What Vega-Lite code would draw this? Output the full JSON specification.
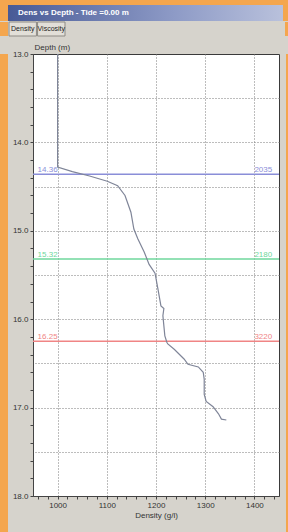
{
  "$schema": "https://vega.github.io/schema/vega-lite/v6.json",
  "background": "#D6D3CC",
  "padding": 0,
  "spacing": 0,
  "config": {
    "font": "Liberation Sans",
    "view": {"stroke": null},
    "axis": {"labelFontSize": 8, "titleFontSize": 8, "titleFontWeight": "normal", "labelColor": "#333333", "titleColor": "#333333", "domainColor": "#444444", "tickColor": "#444444", "labelFlush": false, "labelOverlap": false}
  },
  "datasets": {
    "one": [{"k": 1}],
    "tabs": [{"tab": "Density"}, {"tab": "Viscosity"}],
    "layers": [
      {"depth": 14.36, "left": "14.36", "right": "2035"},
      {"depth": 15.32, "left": "15.32", "right": "2180"},
      {"depth": 16.25, "left": "16.25", "right": "3220"}
    ],
    "curve": [
      {"depth": 13.0, "density": 1000},
      {"depth": 14.28, "density": 1000},
      {"depth": 14.33, "density": 1030},
      {"depth": 14.38, "density": 1065},
      {"depth": 14.44, "density": 1101},
      {"depth": 14.49, "density": 1122},
      {"depth": 14.6, "density": 1137},
      {"depth": 14.79, "density": 1149},
      {"depth": 14.98, "density": 1155},
      {"depth": 15.09, "density": 1163},
      {"depth": 15.24, "density": 1176},
      {"depth": 15.38, "density": 1186},
      {"depth": 15.48, "density": 1198},
      {"depth": 15.66, "density": 1204},
      {"depth": 15.85, "density": 1210},
      {"depth": 15.88, "density": 1216},
      {"depth": 15.96, "density": 1214},
      {"depth": 16.19, "density": 1218},
      {"depth": 16.26, "density": 1222},
      {"depth": 16.28, "density": 1224},
      {"depth": 16.34, "density": 1237},
      {"depth": 16.45, "density": 1257},
      {"depth": 16.51, "density": 1265},
      {"depth": 16.54, "density": 1286},
      {"depth": 16.6, "density": 1296},
      {"depth": 16.68, "density": 1298},
      {"depth": 16.85, "density": 1298},
      {"depth": 16.93, "density": 1302},
      {"depth": 16.99, "density": 1316},
      {"depth": 17.07, "density": 1327},
      {"depth": 17.13, "density": 1333},
      {"depth": 17.14, "density": 1343}
    ]
  },
  "vconcat": [
    {
      "width": 288, "height": 5,
      "view": {"fill": "#F4A64E", "stroke": null},
      "data": {"name": "one"},
      "mark": {"type": "rect", "opacity": 0},
      "encoding": {}
    },
    {
      "spacing": 0,
      "hconcat": [
        {"width": 8, "height": 16, "view": {"fill": "#F4A64E", "stroke": null}, "data": {"name": "one"}, "mark": {"type": "rect", "opacity": 0}, "encoding": {}},
        {
          "width": 275, "height": 16,
          "view": {"fill": "#6B7BAE", "stroke": null},
          "title": {"text": "Dens vs Depth - Tide =0.00 m", "anchor": "start", "orient": "top", "offset": -12, "dx": 10, "color": "white", "fontSize": 8, "fontWeight": "bold", "font": "Liberation Sans"},
          "data": {"name": "one"},
          "mark": {"type": "rect", "color": {"gradient": "linear", "x1": 0, "y1": 0, "x2": 1, "y2": 0, "stops": [{"offset": 0, "color": "#485A96"}, {"offset": 0.6, "color": "#8D9AC6"}, {"offset": 1, "color": "#B9C1DC"}]}},
          "encoding": {}
        },
        {"width": 5, "height": 16, "view": {"fill": "#F4A64E", "stroke": null}, "data": {"name": "one"}, "mark": {"type": "rect", "opacity": 0}, "encoding": {}}
      ]
    },
    {
      "spacing": 0,
      "hconcat": [
        {"width": 8, "height": 14, "view": {"fill": "#F4A64E", "stroke": null}, "data": {"name": "one"}, "mark": {"type": "rect", "opacity": 0}, "encoding": {}},
        {
          "width": 56, "height": 14,
          "data": {"name": "tabs"},
          "layer": [
            {
              "mark": {"type": "rect", "fill": "#E2DFD8", "stroke": "#8E8B85", "strokeWidth": 1},
              "encoding": {"x": {"field": "tab", "type": "nominal", "sort": null, "axis": null, "scale": {"paddingInner": 0.04, "paddingOuter": 0}}}
            },
            {
              "mark": {"type": "text", "fontSize": 7, "color": "#222222"},
              "encoding": {"x": {"field": "tab", "type": "nominal", "sort": null, "axis": null, "scale": {"paddingInner": 0.04, "paddingOuter": 0}}, "text": {"field": "tab"}}
            }
          ]
        },
        {"width": 219, "height": 14, "data": {"name": "one"}, "mark": {"type": "rect", "opacity": 0}, "encoding": {}},
        {"width": 5, "height": 14, "view": {"fill": "#F4A64E", "stroke": null}, "data": {"name": "one"}, "mark": {"type": "rect", "opacity": 0}, "encoding": {}}
      ]
    },
    {
      "spacing": 0,
      "hconcat": [
        {"width": 8, "height": 492, "view": {"fill": "#F4A64E", "stroke": null}, "data": {"name": "one"}, "mark": {"type": "rect", "opacity": 0}, "encoding": {}},
        {
          "width": 246, "height": 442,
          "view": {"fill": "white", "stroke": "#3A3A3A", "strokeWidth": 1},
          "resolve": {"axis": {"x": "independent", "y": "independent"}},
          "layer": [
            {
              "data": {"name": "layers"},
              "mark": {"type": "text", "align": "right", "baseline": "bottom", "fontSize": 8, "dy": -0.5},
              "encoding": {
                "x": {"datum": 1000, "type": "quantitative", "scale": {"domain": [950, 1450], "nice": false, "zero": false},
                  "axis": {"orient": "top", "values": [1000, 1100, 1200, 1300, 1400], "grid": true, "gridColor": "#7A7A7A", "gridDash": [1, 2], "ticks": false, "labels": false, "domain": false, "title": null, "minExtent": 16, "maxExtent": 16}},
                "y": {"field": "depth", "type": "quantitative", "scale": {"domain": [13, 18], "reverse": true, "nice": false, "zero": false},
                  "axis": {"orient": "right", "values": [13.5, 14, 14.5, 15, 15.5, 16, 16.5, 17, 17.5], "grid": true, "gridColor": "#7A7A7A", "gridDash": [1, 2], "ticks": false, "labels": false, "domain": false, "title": null, "minExtent": 0, "maxExtent": 0}},
                "text": {"field": "left"},
                "color": {"field": "left", "type": "nominal", "legend": null, "scale": {"domain": ["14.36", "15.32", "16.25"], "range": ["#8A8ED8", "#6FD79C", "#F08585"]}}
              }
            },
            {
              "data": {"name": "layers"},
              "mark": {"type": "rule", "strokeWidth": 1.5},
              "encoding": {
                "y": {"field": "depth", "type": "quantitative", "axis": null, "scale": {"domain": [13, 18], "reverse": true, "nice": false, "zero": false}},
                "color": {"field": "left", "type": "nominal", "legend": null, "scale": {"domain": ["14.36", "15.32", "16.25"], "range": ["#8A8ED8", "#6FD79C", "#F08585"]}}
              }
            },
            {
              "data": {"name": "curve"},
              "mark": {"type": "line", "color": "#7F8598", "strokeWidth": 1.2},
              "encoding": {
                "x": {"field": "density", "type": "quantitative", "scale": {"domain": [950, 1450], "nice": false, "zero": false},
                  "axis": {"orient": "bottom", "values": [960, 980, 1000, 1020, 1040, 1060, 1080, 1100, 1120, 1140, 1160, 1180, 1200, 1220, 1240, 1260, 1280, 1300, 1320, 1340, 1360, 1380, 1400, 1420, 1440], "format": "d", "labelExpr": "datum.value % 100 === 0 ? datum.label : ''", "grid": false, "tickSize": 3, "labelPadding": 2, "title": "Density (g/l)", "titlePadding": 2}},
                "y": {"field": "depth", "type": "quantitative", "scale": {"domain": [13, 18], "reverse": true, "nice": false, "zero": false},
                  "axis": {"orient": "left", "values": [13, 13.2, 13.4, 13.6, 13.8, 14, 14.2, 14.4, 14.6, 14.8, 15, 15.2, 15.4, 15.6, 15.8, 16, 16.2, 16.4, 16.6, 16.8, 17, 17.2, 17.4, 17.6, 17.8, 18], "format": ".1f", "labelExpr": "datum.value % 1 === 0 ? datum.label : ''", "grid": false, "tickSize": 3, "labelPadding": 2, "minExtent": 24, "maxExtent": 24, "title": "Depth (m)", "titleAngle": 0, "titleX": 1, "titleY": -3, "titleAlign": "left", "titleBaseline": "bottom"}},
                "order": {"field": "depth", "type": "quantitative"}
              }
            },
            {
              "data": {"name": "layers"},
              "mark": {"type": "text", "align": "left", "baseline": "bottom", "fontSize": 8, "dy": -0.5},
              "encoding": {
                "x": {"datum": 1400, "type": "quantitative", "axis": null, "scale": {"domain": [950, 1450], "nice": false, "zero": false}},
                "y": {"field": "depth", "type": "quantitative", "axis": null, "scale": {"domain": [13, 18], "reverse": true, "nice": false, "zero": false}},
                "text": {"field": "right"},
                "color": {"field": "left", "type": "nominal", "legend": null, "scale": {"domain": ["14.36", "15.32", "16.25"], "range": ["#8A8ED8", "#6FD79C", "#F08585"]}}
              }
            }
          ]
        },
        {"width": 5, "height": 492, "data": {"name": "one"}, "mark": {"type": "rect", "opacity": 0}, "encoding": {}},
        {"width": 5, "height": 492, "view": {"fill": "#F4A64E", "stroke": null}, "data": {"name": "one"}, "mark": {"type": "rect", "opacity": 0}, "encoding": {}}
      ]
    },
    {
      "spacing": 0,
      "hconcat": [
        {"width": 8, "height": 2, "view": {"fill": "#F4A64E", "stroke": null}, "data": {"name": "one"}, "mark": {"type": "rect", "opacity": 0}, "encoding": {}},
        {"width": 275, "height": 2, "view": {"fill": "#8E8B86", "stroke": null}, "data": {"name": "one"}, "mark": {"type": "rect", "opacity": 0}, "encoding": {}},
        {"width": 5, "height": 2, "view": {"fill": "#F4A64E", "stroke": null}, "data": {"name": "one"}, "mark": {"type": "rect", "opacity": 0}, "encoding": {}}
      ]
    },
    {
      "spacing": 0,
      "hconcat": [
        {"width": 8, "height": 4, "view": {"fill": "#F4A64E", "stroke": null}, "data": {"name": "one"}, "mark": {"type": "rect", "opacity": 0}, "encoding": {}},
        {"width": 275, "height": 4, "data": {"name": "one"}, "mark": {"type": "rect", "opacity": 0}, "encoding": {}},
        {"width": 5, "height": 4, "view": {"fill": "#F4A64E", "stroke": null}, "data": {"name": "one"}, "mark": {"type": "rect", "opacity": 0}, "encoding": {}}
      ]
    }
  ]
}
